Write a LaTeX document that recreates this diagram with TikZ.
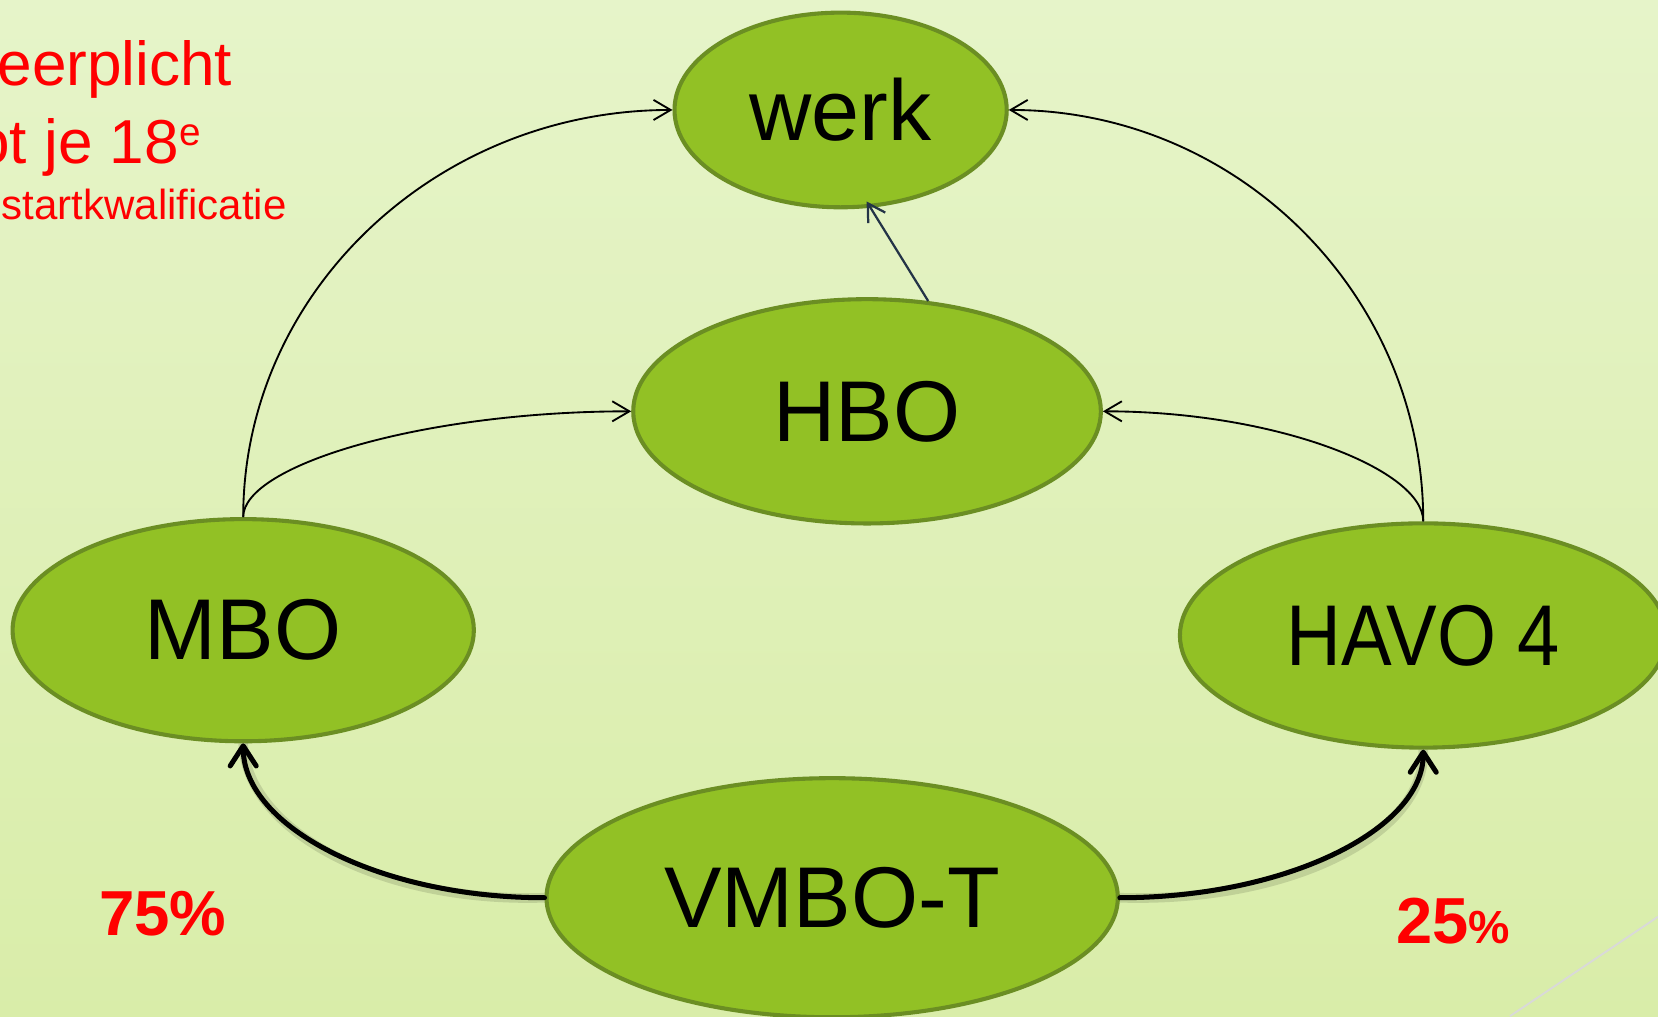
\documentclass[tikz,border=0pt]{standalone}
\usepackage{fontspec}
\setmainfont{Liberation Sans}
\usetikzlibrary{shapes.geometric,arrows.meta}
\definecolor{bgtop}{HTML}{E6F4C9}
\definecolor{bgmid}{HTML}{D1E99A}
\definecolor{bgbot}{HTML}{D9EDA9}
\definecolor{ellfill}{HTML}{92C125}
\definecolor{elldraw}{HTML}{6B8E23}
\definecolor{slate}{HTML}{243447}
\definecolor{hdrred}{HTML}{FF0000}
\tikzset{
  blob/.style={ellipse, fill=ellfill, draw=elldraw, line width=1.1pt, inner sep=0pt,
    font=\fontsize{23.2}{27}\selectfont, text=black},
  thinarrow/.style={draw=black, line width=0.5pt, -{Straight Barb[length=4.6pt,width=5.4pt]}},
  thickarrow/.style={draw=black, line width=1.35pt, line cap=round,
    -{Straight Barb[length=5.4pt,width=7pt,line cap=round,line join=round]}},
  shadowarrow/.style={draw=black, opacity=0.12, line width=2.6pt},
  redtext/.style={text=hdrred, inner sep=0pt, anchor=base west}
}
\begin{document}
\begin{tikzpicture}[x=0.01cm,y=-0.01cm]
\useasboundingbox (0,0) rectangle (1568,961);
\clip (0,0) rectangle (1568,961);
\shade[top color=bgtop, middle color=bgmid, bottom color=bgbot] (0,0) rectangle (1568,961);

% faint grey line bottom right
\coordinate (g1) at (1428,961);
\coordinate (g2) at (1568,867);
\draw[color=black!15, line width=0.5pt] (g1) -- (g2);

% ellipses
\node[blob, minimum width=3.14cm, minimum height=1.84cm] (werk) at (795,104) {werk};
\node[blob, minimum width=4.42cm, minimum height=2.12cm] (hbo) at (820,389) {HBO};
\node[blob, minimum width=4.36cm, minimum height=2.10cm] (mbo) at (230,596) {MBO};
\node[blob, minimum width=4.60cm, minimum height=2.12cm] (havo) at (1346,601) {\scalebox{0.88}[1]{HAVO 4}};
\node[blob, minimum width=5.40cm, minimum height=2.26cm] (vmbo) at (787,849) {VMBO-T};

% thin arrows
\draw[thinarrow] (mbo.north) .. controls (230,276) and (413,104) .. (werk.west);
\draw[thinarrow] (mbo.north) .. controls (230,440) and (400,389) .. (hbo.west);
\draw[thinarrow] (havo.north) .. controls (1346,278) and (1170,104) .. (werk.east);
\draw[thinarrow] (havo.north) .. controls (1346,444) and (1206,389) .. (hbo.east);
\draw[draw=slate, line width=0.6pt, shorten >=-2pt, -{Straight Barb[length=4.6pt,width=5.4pt]}] (hbo.61) -- (werk.-73);

% thick arrows with soft shadow
\draw[shadowarrow, shift={(3,5)}] (vmbo.west) .. controls (359,849) and (230,782) .. (mbo.south);
\draw[shadowarrow, shift={(3,5)}] (vmbo.east) .. controls (1217,849) and (1346,784) .. (havo.south);
\draw[thickarrow] (vmbo.west) .. controls (359,849) and (230,782) .. (mbo.south);
\draw[thickarrow] (vmbo.east) .. controls (1217,849) and (1346,784) .. (havo.south);

% red header text
\node[redtext, font=\fontsize{16.7}{20}\selectfont] (t1) at (-3,81) {eerplicht};
\node[redtext, font=\fontsize{16.7}{20}\selectfont] (t2) at (-24,155) {ot je 18\raisebox{5pt}{\fontsize{10.4}{12}\selectfont e}};
\node[redtext, font=\fontsize{11.3}{14}\selectfont] (t3) at (1,208) {startkwalificatie};

% percentages
\node[redtext, font=\bfseries\fontsize{17.1}{20}\selectfont] (p75) at (93,885) {75\%};
\node[redtext, font=\bfseries\fontsize{17.5}{20}\selectfont] (p25) at (1320,892) {25{\fontsize{12.5}{14}\selectfont\%}};
\end{tikzpicture}
\end{document}
